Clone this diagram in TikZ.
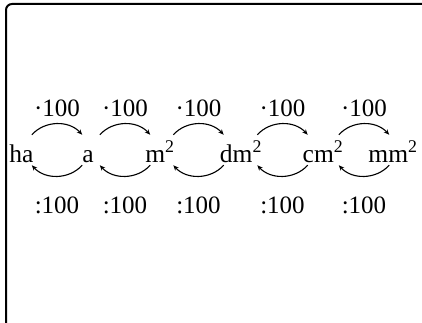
\documentclass[tikz,border=0pt]{standalone}
\usepackage{fontspec}
\setmainfont{Liberation Serif}
\usetikzlibrary{arrows.meta}
\tikzset{
  unit/.style={anchor=base, inner sep=0pt, font=\fontsize{25.5}{30}\selectfont},
  factor/.style={anchor=base, inner sep=0pt, font=\fontsize{25}{30}\selectfont},
  gap/.style={draw=none, inner sep=0pt, minimum width=50pt, minimum height=30pt},
  conv/.style={-{Stealth[length=5.5pt,width=4.5pt]}, line width=1.1pt, bend left=48},
}

\begin{document}
\begin{tikzpicture}[x=1pt,y=1pt]
  \useasboundingbox (0,0) rectangle (422,-323);
  \clip (0,0) rectangle (422,-323);
  % frame
  \draw[line width=2pt, rounded corners=6pt] (6,-500) -- (6,-4) -- (600,-4);

  % units
  \foreach \u/\x [count=\i] in {ha/21.5, a/88, m\textsuperscript{2}/160,
      dm\textsuperscript{2}/241, cm\textsuperscript{2}/323, mm\textsuperscript{2}/393}
    \node[unit] (u\i) at (\x,-162) {\u};

  % conversions between neighbouring units
  \foreach \x [count=\i] in {57,125,198.5,282.5,364} {
    \node[gap] (g\i) at (\x,-150) {};
    \draw[conv] (g\i.north west) to (g\i.north east);
    \draw[conv] (g\i.south east) to (g\i.south west);
    \node[factor] (mul\i) at (\x,-117) {·100};
    \node[factor] (div\i) at (\x,-213) {:100};
  }
\end{tikzpicture}
\end{document}
